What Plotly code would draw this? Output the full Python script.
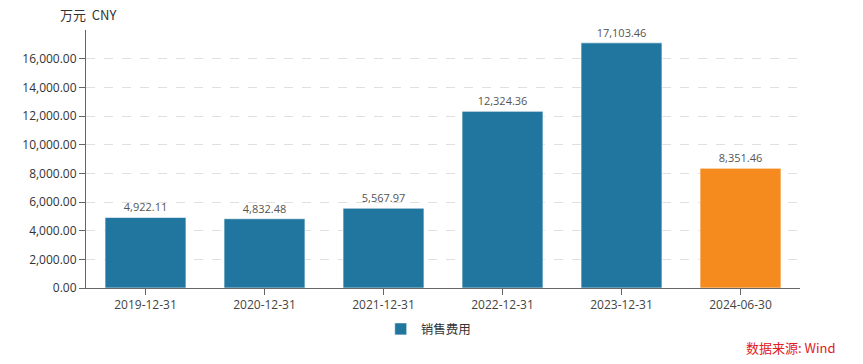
import plotly.graph_objects as go

categories = ["2019-12-31", "2020-12-31", "2021-12-31", "2022-12-31", "2023-12-31", "2024-06-30"]
values = [4922.11, 4832.48, 5567.97, 12324.36, 17103.46, 8351.46]
bar_colors = ["#21769f", "#21769f", "#21769f", "#21769f", "#21769f", "#f58a1e"]
series_name = "销售费用"
tick_vals = [0, 2000, 4000, 6000, 8000, 10000, 12000, 14000, 16000]

FONT = "Open Sans, Noto Sans CJK SC, sans-serif"

fig = go.Figure()
fig.add_trace(go.Bar(
    x=categories, y=values, name=series_name,
    marker=dict(color=bar_colors, line=dict(color="rgba(255,255,255,0.6)", width=1)),
    text=[f"{v:,.2f}" for v in values], textposition="outside",
    textfont=dict(size=11, color="#555555", family=FONT),
    cliponaxis=False, showlegend=True,
))

fig.update_layout(
    width=855, height=356,
    margin=dict(l=78, r=63, t=22, b=76, autoexpand=False),
    plot_bgcolor="white", paper_bgcolor="white",
    font=dict(family=FONT, size=12, color="#333333"),
    bargap=0.32,
    showlegend=True,
    legend=dict(orientation="h", x=0.48, xanchor="center", y=-0.16, yanchor="middle",
                font=dict(size=12.5, color="#333333", family="Noto Sans CJK SC")),
    xaxis=dict(type="category", showline=True, linecolor="#666666", linewidth=1, ticks="outside",
               tickcolor="#666666", ticklen=6, tickfont=dict(size=12, color="#444444")),
    yaxis=dict(range=[0, 18000], tickvals=tick_vals, tickformat=",.2f",
               showline=True, linecolor="#666666", linewidth=1, ticks="outside",
               tickcolor="#666666", ticklen=6, showgrid=True, gridcolor="#e0e0e0",
               griddash="dash", zeroline=False, tickfont=dict(size=12, color="#333333")),
    annotations=[
        dict(text="万元  CNY", xref="paper", yref="paper", x=0.003, y=1.0, xanchor="center",
             yanchor="bottom", yshift=4, showarrow=False,
             font=dict(size=13, color="#333333", family="Noto Sans CJK SC")),
        dict(text="数据来源: Wind", xref="paper", yref="paper", x=1.053, y=-0.229,
             xanchor="right", yanchor="middle", showarrow=False,
             font=dict(size=13, color="#e02020", family="Noto Sans CJK SC")),
    ],
)

fig.write_html("out.html")
